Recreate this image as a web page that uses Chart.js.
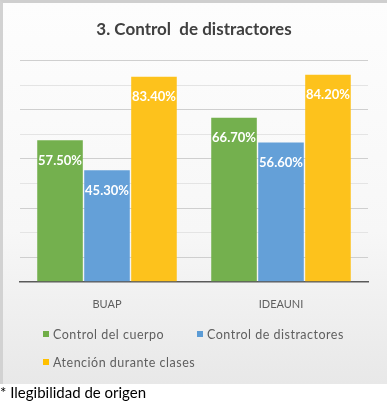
<!DOCTYPE html>
<html>
<head>
<meta charset="utf-8">
<script src="https://cdn.jsdelivr.net/npm/chart.js@4.4.1/dist/chart.umd.min.js"></script>
<style>
  html, body { margin: 0; padding: 0; background: #fff; }
  body { width: 387px; height: 401px; position: relative; overflow: hidden; font-family: Lato, "Open Sans", sans-serif; }
  #frame {
    position: absolute; left: 0; top: 0; width: 387px; height: 384px; box-sizing: border-box;
    border-top: 3px solid #cfcfcf; border-left: 3px solid #d2d2d2;
    background: linear-gradient(#fdfdfd 0%, #f7f7f7 60%, #e8e8e8 100%);
  }
  #chart { position: absolute; left: 0; top: 0; }
  .legend { position: absolute; font-size: 12.5px; color: #5f5f5f; letter-spacing: 0.5px; white-space: nowrap; }
  .legend i { display: inline-block; width: 6px; height: 6px; margin-right: 4px; vertical-align: 2px; }
  #note { position: absolute; left: 0; top: 383px; font-size: 15px; color: #000; font-family: Lato, sans-serif; }
</style>
</head>
<body>
<div id="frame">
  <canvas id="chart" width="384" height="381"></canvas>
  <div class="legend" style="left:40px; top:324px"><i style="background:#70ad47"></i>Control del cuerpo</div>
  <div class="legend" style="left:194px; top:324px"><i style="background:#5b9bd5"></i>Control de distractores</div>
  <div class="legend" style="left:40px; top:352px"><i style="background:#ffc000"></i>Atención durante clases</div>
</div>
<div id="note">* Ilegibilidad de origen</div>
<script>
// datos del gráfico
const categories = ['BUAP', 'IDEAUNI'];
const seriesNames = ['Control del cuerpo', 'Control de distractores', 'Atención durante clases'];
const controlCuerpo = [57.5, 66.7];
const controlDistractores = [45.3, 56.6];
const atencionClases = [83.4, 84.2];
const seriesColors = ['#74b04e', '#64a0d8', '#fdc21c'];

// etiquetas blancas dentro de cada barra
const valueLabels = {
    id: 'valueLabels',
    afterDatasetsDraw(chart) {
        const ctx = chart.ctx;
        ctx.save();
        ctx.fillStyle = '#ffffff';
        ctx.font = 'bold 13px Lato, sans-serif';
        ctx.textAlign = 'center';
        ctx.textBaseline = 'middle';
        chart.data.datasets.forEach((ds, i) => {
            chart.getDatasetMeta(i).data.forEach((bar, j) => {
                ctx.fillText(ds.data[j].toFixed(2) + '%', bar.x, bar.y + 20);
            });
        });
        ctx.restore();
    }
};

new Chart(document.getElementById('chart'), {
    type: 'bar',
    data: {
        labels: categories,
        datasets: [
            { label: seriesNames[0], data: controlCuerpo, backgroundColor: seriesColors[0] },
            { label: seriesNames[1], data: controlDistractores, backgroundColor: seriesColors[1] },
            { label: seriesNames[2], data: atencionClases, backgroundColor: seriesColors[2] }
        ]
    },
    options: {
        responsive: false,
        animation: false,
        layout: { padding: { left: 17, right: 19, top: 0, bottom: 65 } },
        categoryPercentage: 0.81,
        barPercentage: 0.97,
        plugins: {
            legend: { display: false },
            tooltip: { enabled: false },
            title: {
                display: true,
                text: '3. Control  de distractores',
                color: '#404040',
                font: { family: 'Lato', size: 17, weight: 'bold' },
                padding: { top: 16, bottom: 21 }
            }
        },
        scales: {
            x: {
                grid: { display: false },
                border: { display: true, color: '#5a5a5a', width: 1.5 },
                ticks: { color: '#5f5f5f', font: { family: 'Lato', size: 11 }, padding: 8 }
            },
            y: {
                min: 0, max: 90,
                ticks: { display: false, stepSize: 10 },
                border: { display: false },
                grid: {
                    drawTicks: false,
                    color: c => c.tick.value === 0 ? 'rgba(0,0,0,0)' : (c.tick.value % 20 === 10 ? '#cfcfcf' : '#e4e4e4')
                }
            }
        }
    },
    plugins: [valueLabels]
});
</script>
</body>
</html>
